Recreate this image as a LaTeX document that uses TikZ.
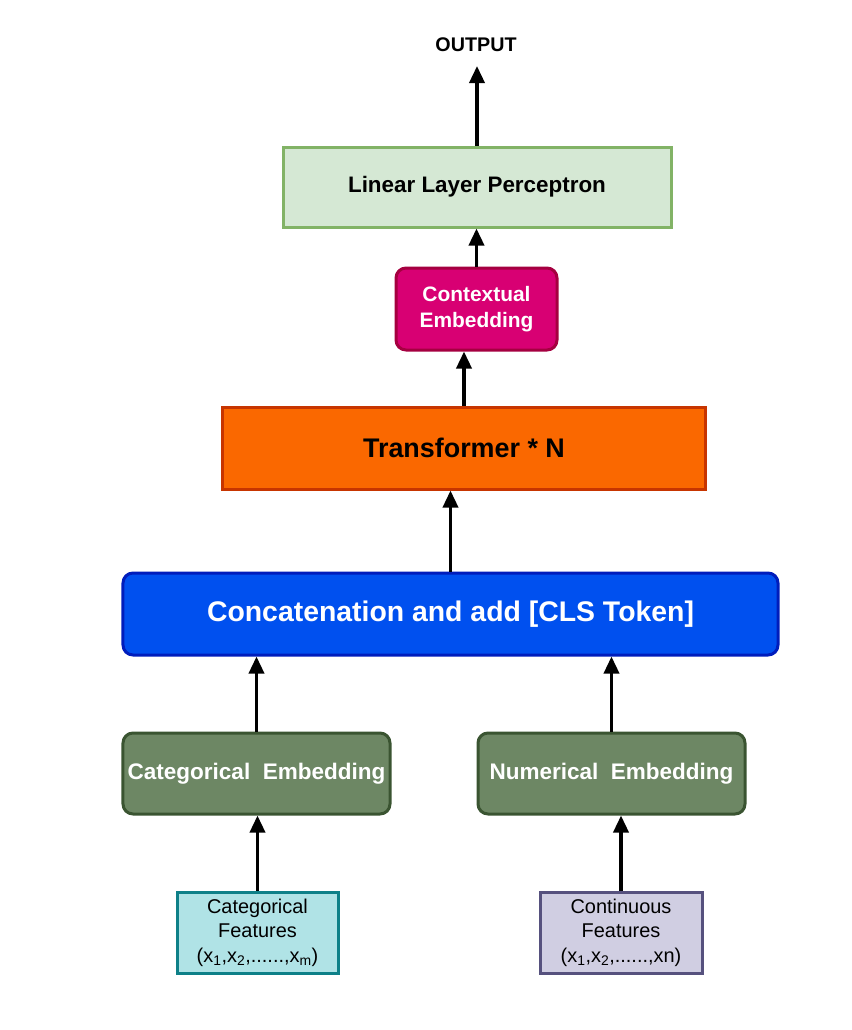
\documentclass[tikz,border=0pt]{standalone}
\usepackage{fontspec}
\setmainfont{Liberation Sans}
\usetikzlibrary{arrows.meta}
\definecolor{llpfill}{HTML}{D5E8D4}
\definecolor{llpdraw}{HTML}{82B366}
\definecolor{ctxfill}{HTML}{D80073}
\definecolor{ctxdraw}{HTML}{A50040}
\definecolor{trfill}{HTML}{FA6800}
\definecolor{trdraw}{HTML}{C73500}
\definecolor{catfill}{HTML}{0050EF}
\definecolor{catdraw}{HTML}{001DBC}
\definecolor{embfill}{HTML}{6D8764}
\definecolor{embdraw}{HTML}{3A5431}
\definecolor{cffill}{HTML}{B0E3E6}
\definecolor{cfdraw}{HTML}{0E8088}
\definecolor{nffill}{HTML}{D0CEE2}
\definecolor{nfdraw}{HTML}{56517E}
\tikzset{
  box/.style={draw, line width=3bp, inner sep=0pt, align=center},
  rbox/.style={box, rounded corners=10bp},
  arr/.style={line width=3.5bp, -{Triangle[width=15bp,length=17bp]}},
}
\begin{document}
\begin{tikzpicture}[x=1bp,y=-1bp]
\useasboundingbox (0,0) rectangle (852,1030);
\node[box, fill=llpfill, draw=llpdraw, minimum width=388bp, minimum height=80bp,
  font=\fontsize{22.5}{26}\selectfont\bfseries] (llp) at (477,187) {Linear Layer Perceptron};
\node[rbox, fill=ctxfill, draw=ctxdraw, text=white, minimum width=161bp, minimum height=82bp,
  font=\fontsize{21}{26}\selectfont\bfseries] (ctx) at (476.5,309) {Contextual\\Embedding};
\node[box, fill=trfill, draw=trdraw, minimum width=482bp, minimum height=82bp,
  font=\fontsize{27}{31}\selectfont\bfseries] (tr) at (464,448) {Transformer * N};
\node[rbox, fill=catfill, draw=catdraw, text=white, minimum width=655bp, minimum height=82bp,
  font=\fontsize{28.5}{33}\selectfont\bfseries] (cat) at (450.5,614) {Concatenation and add [CLS Token]};
\node[rbox, fill=embfill, draw=embdraw, text=white, minimum width=267bp, minimum height=81bp,
  font=\fontsize{22.6}{26}\selectfont\bfseries] (cemb) at (256.5,773.5) {Categorical\ \ Embedding};
\node[rbox, fill=embfill, draw=embdraw, text=white, minimum width=267bp, minimum height=81bp,
  font=\fontsize{22.6}{26}\selectfont\bfseries] (nemb) at (611.5,773.5) {Numerical\ \ Embedding};
\node[box, fill=cffill, draw=cfdraw, minimum width=161bp, minimum height=81bp,
  font=\fontsize{20}{24.5}\selectfont] (cf) at (257.5,932.5)
  {Categorical\\Features\\(x\textsubscript{1},x\textsubscript{2},......,x\textsubscript{m})};
\node[box, fill=nffill, draw=nfdraw, minimum width=162bp, minimum height=81bp,
  font=\fontsize{20}{24.5}\selectfont] (nf) at (621,932.5)
  {Continuous\\Features\\(x\textsubscript{1},x\textsubscript{2},......,xn)};
\node[font=\fontsize{19.8}{23}\selectfont\bfseries] (out) at (476,45) {OUTPUT};
\coordinate (outend) at (477,66);
\draw[arr] (cf.north) -- (cemb.south -| cf.north);
\draw[arr] (nf.north) -- (nemb.south -| nf.north);
\draw[arr] (cemb.north) -- (cat.south -| cemb.north);
\draw[arr] (nemb.north) -- (cat.south -| nemb.north);
\draw[arr] (cat.north) -- (tr.south -| cat.north);
\draw[arr] (tr.north) -- (ctx.south -| tr.north);
\draw[arr] (ctx.north) -- (llp.south -| ctx.north);
\draw[arr] (llp.north) -- (outend);
\end{tikzpicture}
\end{document}
